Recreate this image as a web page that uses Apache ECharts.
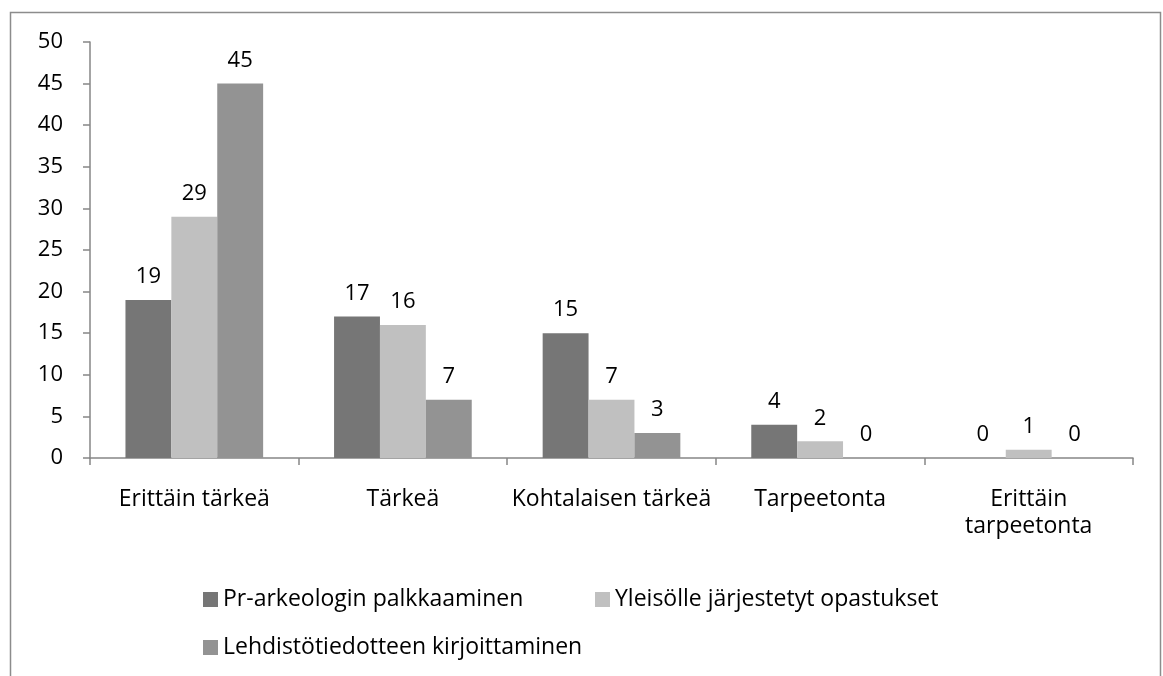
<!DOCTYPE html>
<html>
<head>
<meta charset="utf-8">
<script src="https://cdn.jsdelivr.net/npm/echarts@6/dist/echarts.min.js"></script>
<style>
  html, body { margin: 0; padding: 0; background: #fff; }
  #chart { width: 1163px; height: 676px; }
</style>
</head>
<body>
<div id="chart"></div>
<script>
  // categories and series values
  let categories = ['Erittäin tärkeä', 'Tärkeä', 'Kohtalaisen tärkeä', 'Tarpeetonta', 'Erittäin\ntarpeetonta']
  let seriesNames = ['Pr-arkeologin palkkaaminen', 'Yleisölle järjestetyt opastukset', 'Lehdistötiedotteen kirjoittaminen']
  let prValues = [19, 17, 15, 4, 0]
  let opastusValues = [29, 16, 7, 2, 1]
  let lehdistoValues = [45, 7, 3, 0, 0]
  let yTicks = [0, 5, 10, 15, 20, 25, 30, 35, 40, 45, 50]

  let colors = ['#767676', '#c0c0c0', '#939393']
  let font = '"Open Sans", Lato, sans-serif'
  let fontSize = 22

  let dom = document.getElementById('chart')
  let myChart = echarts.init(dom)

  let makeSeries = (name, data, color) => ({
    name: name,
    type: 'bar',
    data: data,
    barGap: '0%',
    barCategoryGap: '34%',
    itemStyle: { color: color },
    label: {
      show: true,
      position: 'top',
      distance: 12,
      color: '#000',
      fontSize: fontSize,
      fontFamily: font
    }
  })

  let legendBase = {
    orient: 'horizontal',
    icon: 'rect',
    itemWidth: 15,
    itemHeight: 15,
    itemGap: 6,
    textStyle: { color: '#000', fontSize: 23, fontFamily: font },
    padding: 0,
    selectedMode: false
  }

  let option = {
    animation: false,
    grid: { left: 90, right: 30, top: 42, bottom: 218, containLabel: false },
    graphic: [{
      type: 'rect',
      shape: { x: 10.5, y: 12.5, width: 1150, height: 700 },
      style: { fill: 'none', stroke: '#8c8c8c', lineWidth: 1.5 },
      silent: true,
      z: -1
    }],
    legend: [
      Object.assign({}, legendBase, { data: [seriesNames[0]], left: 203, top: 588 }),
      Object.assign({}, legendBase, { data: [seriesNames[1]], left: 595, top: 588 }),
      Object.assign({}, legendBase, { data: [seriesNames[2]], left: 203, top: 636 })
    ],
    xAxis: {
      type: 'category',
      data: categories,
      axisLine: { lineStyle: { color: '#868686', width: 1.5 } },
      axisTick: { show: true, length: 7, lineStyle: { color: '#868686', width: 1.5 } },
      axisLabel: {
        color: '#000',
        fontSize: 23,
        fontFamily: font,
        margin: 28,
        lineHeight: 27,
        interval: 0
      }
    },
    yAxis: {
      type: 'value',
      min: yTicks[0],
      max: yTicks[yTicks.length - 1],
      interval: 5,
      splitLine: { show: false },
      axisLine: { show: true, lineStyle: { color: '#868686', width: 1.5 } },
      axisTick: { show: true, length: 7, lineStyle: { color: '#868686', width: 1.5 } },
      axisLabel: {
        color: '#000',
        fontSize: fontSize,
        fontFamily: font,
        margin: 27
      }
    },
    series: [
      makeSeries(seriesNames[0], prValues, colors[0]),
      makeSeries(seriesNames[1], opastusValues, colors[1]),
      makeSeries(seriesNames[2], lehdistoValues, colors[2])
    ]
  }
  myChart.setOption(option)
</script>
</body>
</html>
